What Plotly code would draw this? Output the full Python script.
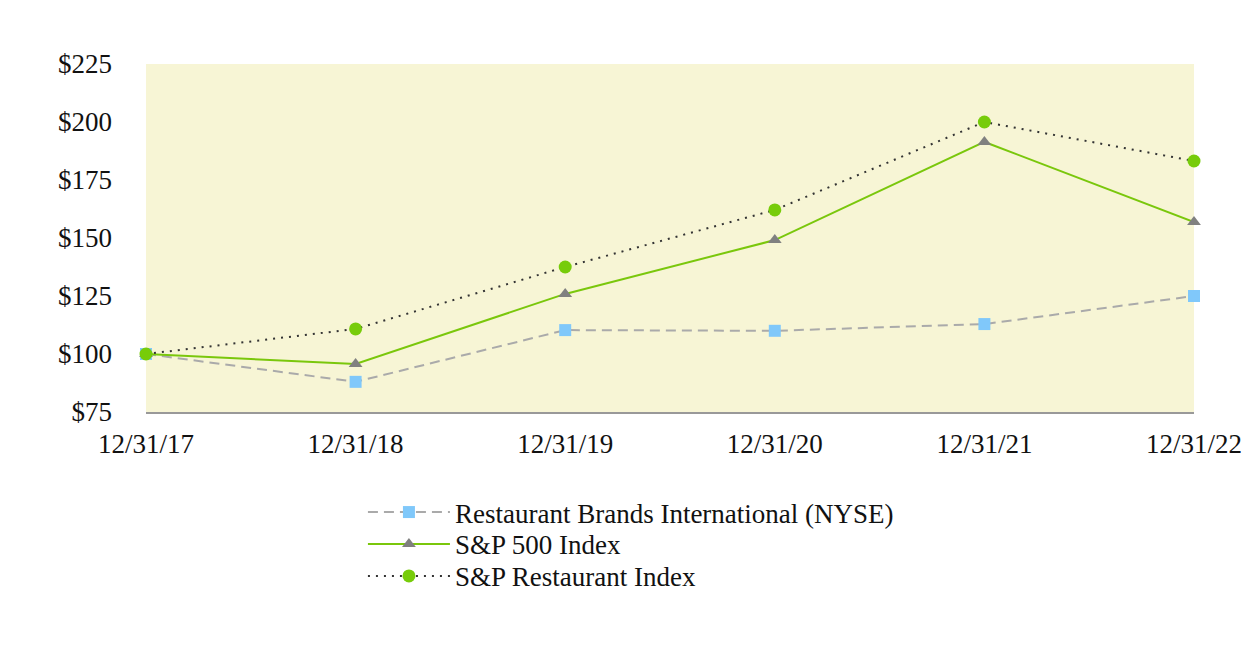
import plotly.graph_objects as go

dates = ["12/31/17", "12/31/18", "12/31/19", "12/31/20", "12/31/21", "12/31/22"]
rbi = [100, 88.0, 110.3, 110.0, 112.9, 125.0]
sp500 = [100, 95.7, 125.9, 149.1, 191.4, 156.9]
sp_rest = [100, 110.8, 137.5, 162.1, 200.0, 183.2]

names = ["Restaurant Brands International (NYSE)", "S&P 500 Index", "S&P Restaurant Index"]
xpos = list(range(len(dates)))

fig = go.Figure()
fig.add_trace(go.Scatter(x=xpos, y=rbi, name=names[0], mode="lines+markers",
                         line=dict(color="#AAAAAA", width=2, dash="10px,6px"),
                         marker=dict(symbol="square", size=12, color="#80C8FA"),
                         cliponaxis=False, legend="legend", showlegend=True))
fig.add_trace(go.Scatter(x=xpos, y=sp500, name=names[1], mode="lines+markers",
                         line=dict(color="#7AC70C", width=2),
                         marker=dict(symbol="triangle-up", size=12, color="#808080"),
                         cliponaxis=False, legend="legend2", showlegend=True))
fig.add_trace(go.Scatter(x=xpos, y=sp_rest, name=names[2], mode="lines+markers",
                         line=dict(color="#333333", width=2, dash="2px,6px"),
                         marker=dict(symbol="circle", size=13, color="#77CC0A"),
                         cliponaxis=False, legend="legend3", showlegend=True))

leg_common = dict(orientation="v", x=0.207, xanchor="left", yanchor="top",
                  itemwidth=82, font=dict(size=27), bgcolor="rgba(0,0,0,0)")

fig.update_layout(
    width=1258, height=666,
    showlegend=True,
    margin=dict(l=138, r=72, t=56, b=262),
    paper_bgcolor="white",
    plot_bgcolor="#F7F5D5",
    font=dict(family="Liberation Serif, Times New Roman, serif", size=27, color="#111111"),
    xaxis=dict(range=[0, 5], tickvals=xpos, ticktext=dates, showgrid=False, zeroline=False,
               showline=True, linecolor="#999999", linewidth=2, ticks="", ticklen=0,
               ticklabelstandoff=7),
    yaxis=dict(range=[75, 225], dtick=25, tick0=75, tickprefix="$", showgrid=False,
               zeroline=False, showline=False, ticks="", ticklabelstandoff=33),
    legend=dict(y=-0.2184, **leg_common),
    legend2=dict(y=-0.310, **leg_common),
    legend3=dict(y=-0.402, **leg_common),
)

fig.write_html("out.html")
